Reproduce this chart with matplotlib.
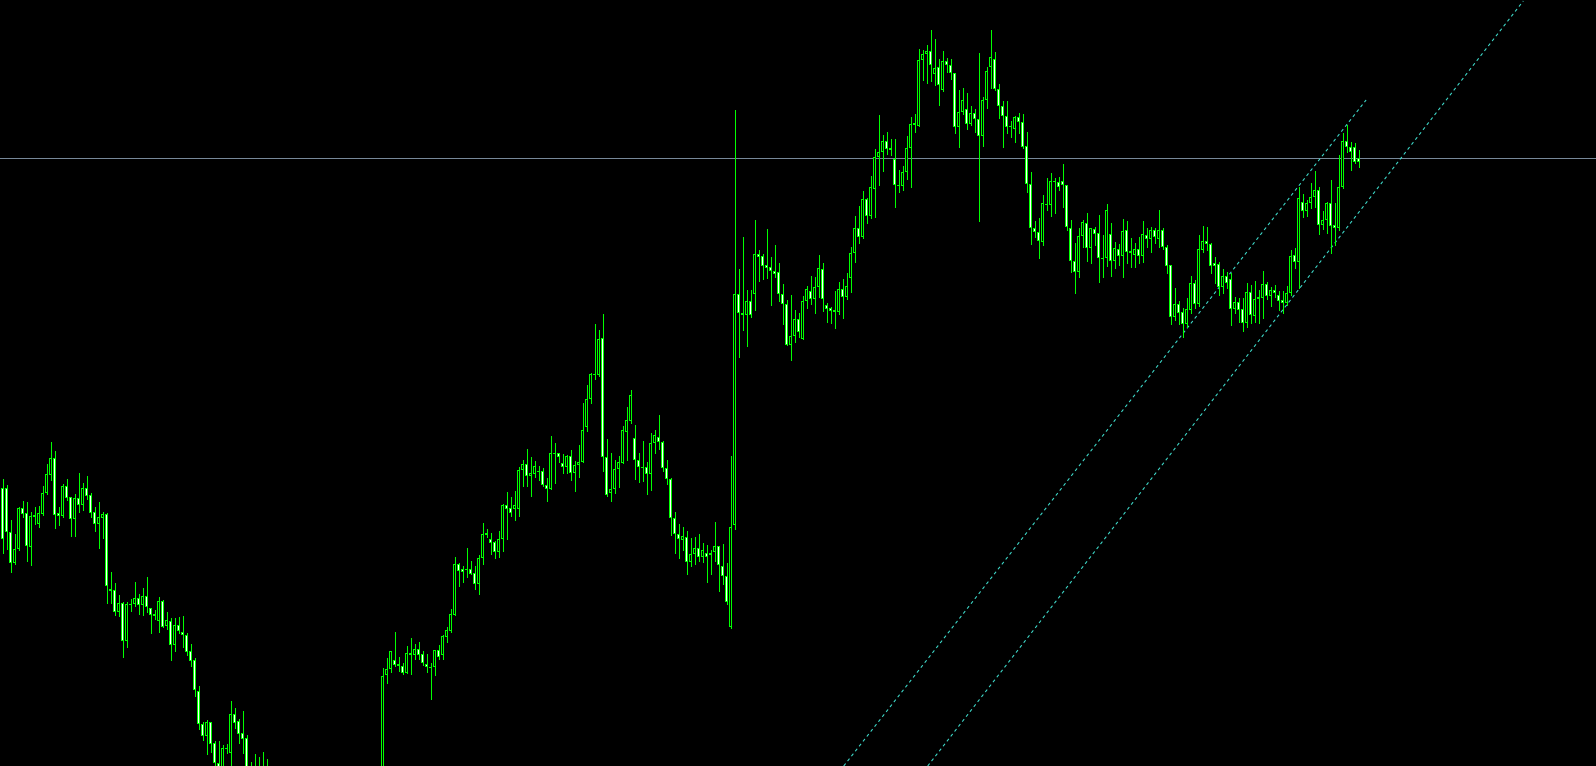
import matplotlib
matplotlib.use('Agg')
import matplotlib.pyplot as plt
import numpy as np

# OHLC (price units = pixels above the bottom edge)
opens = [
    278, 278, 234, 203, 217, 258, 253, 219, 251, 242,
    252, 273, 291, 308, 253, 250, 280, 269, 247, 268,
    261, 278, 271, 254, 242, 248, 252, 177, 176, 154,
    163, 125, 162, 162, 168, 161, 170, 158, 152, 145,
    165, 140, 145, 121, 141, 134, 131, 115, 106, 75,
    42, 30, 44, 23, 3, -10, 18, 13, 52, 45,
    33, 28, -8, -15, -10, -18, -12, -25, -35, -42,
    -40, -50, -58, -55, -62, -70, -66, -74, -80, -78,
    -85, -90, -84, -92, -88, -80, -76, -70, -72, -64,
    -58, -52, -48, -40, -36, -30, 91, 97, 106, 102,
    100, 93, 113, 111, 117, 112, 102, 99, 99, 116,
    111, 129, 135, 151, 202, 197, 197, 197, 193, 182,
    208, 233, 227, 224, 214, 227, 261, 258, 257, 257,
    296, 302, 290, 292, 295, 295, 281, 277, 313, 313,
    303, 299, 310, 293, 301, 304, 339, 367, 392, 391,
    428, 309, 273, 277, 297, 303, 334, 345, 328, 306,
    299, 299, 292, 323, 329, 324, 298, 287, 248, 232,
    226, 229, 204, 212, 218, 209, 213, 213, 214, 220,
    200, 190, 139, 241, 472, 453, 451, 465, 472, 512,
    510, 501, 499, 495, 494, 472, 462, 421, 430, 447,
    427, 465, 475, 467, 479, 497, 461, 458, 456, 454,
    477, 469, 488, 513, 538, 529, 567, 550, 577, 609,
    614, 625, 618, 607, 581, 580, 594, 618, 643, 640,
    706, 712, 715, 692, 699, 676, 705, 701, 693, 639,
    654, 657, 642, 653, 647, 630, 666, 699, 707, 677,
    660, 650, 640, 637, 649, 644, 620, 582, 538, 534,
    524, 561, 561, 584, 584, 585, 581, 538, 505, 494,
    530, 543, 518, 537, 533, 508, 508, 532, 505, 517,
    510, 536, 515, 511, 517, 510, 531, 527, 536, 527,
    536, 519, 501, 449, 462, 454, 442, 456, 483, 462,
    516, 525, 522, 503, 502, 479, 490, 487, 457, 464,
    457, 443, 474, 450, 467, 468, 482, 470, 476, 471,
    466, 463, 473, 511, 504, 564, 555, 563, 569, 576,
    541, 546, 563, 541, 538, 579, 625, 619, 619, 608,
]
highs = [
    287, 281, 246, 232, 259, 265, 264, 254, 259, 260,
    280, 302, 324, 315, 259, 282, 287, 269, 272, 293,
    283, 290, 273, 259, 264, 254, 253, 194, 183, 171,
    164, 164, 167, 184, 172, 178, 189, 158, 156, 169,
    166, 154, 148, 148, 149, 150, 133, 122, 108, 80,
    44, 46, 44, 25, 25, 21, 22, 65, 58, 47,
    55, 31, 4, 12, 9, 14, 7, -18, -28, -33,
    -36, -45, -50, -52, -58, -60, -62, -70, -72, -75,
    -80, -80, -82, -84, -76, -70, -66, -65, -60, -54,
    -47, -44, -36, -32, -28, 98, 108, 115, 134, 109,
    103, 120, 128, 122, 124, 115, 112, 103, 116, 121,
    131, 139, 157, 209, 203, 200, 218, 205, 200, 211,
    243, 237, 233, 225, 235, 262, 274, 269, 275, 299,
    306, 317, 309, 305, 300, 298, 288, 330, 323, 313,
    312, 311, 316, 305, 321, 363, 381, 393, 442, 436,
    452, 327, 313, 306, 310, 340, 359, 376, 341, 313,
    325, 304, 333, 336, 351, 325, 306, 288, 254, 242,
    239, 235, 228, 229, 232, 223, 221, 216, 244, 220,
    222, 203, 310, 656, 497, 529, 476, 476, 546, 516,
    512, 537, 509, 521, 503, 482, 466, 471, 456, 453,
    470, 480, 490, 489, 511, 503, 463, 459, 475, 484,
    487, 493, 519, 550, 560, 575, 568, 590, 617, 651,
    631, 634, 627, 627, 596, 600, 630, 649, 652, 717,
    716, 721, 736, 727, 707, 715, 708, 707, 693, 676,
    678, 673, 660, 657, 713, 669, 699, 736, 714, 682,
    665, 665, 645, 650, 653, 652, 634, 594, 545, 548,
    571, 588, 593, 588, 589, 602, 581, 546, 523, 538,
    546, 553, 538, 539, 551, 531, 562, 543, 524, 522,
    547, 545, 528, 523, 529, 545, 538, 539, 538, 556,
    538, 521, 501, 478, 465, 458, 468, 490, 486, 531,
    540, 539, 523, 509, 504, 497, 494, 493, 469, 468,
    468, 483, 481, 485, 476, 495, 484, 479, 481, 475,
    475, 480, 516, 518, 579, 572, 566, 583, 595, 579,
    555, 564, 586, 563, 611, 633, 641, 624, 623, 616,
]
lows = [
    213, 217, 194, 202, 216, 249, 205, 201, 242, 239,
    251, 272, 286, 238, 241, 249, 266, 230, 230, 254,
    256, 267, 249, 235, 218, 228, 163, 163, 151, 150,
    109, 119, 155, 160, 152, 151, 154, 133, 147, 134,
    139, 137, 106, 115, 133, 119, 111, 100, 70, 37,
    26, 12, 14, -10, -15, -20, 13, -10, 38, 23,
    13, -15, -20, -25, -22, -28, -30, -40, -48, -50,
    -56, -64, -66, -70, -77, -74, -80, -88, -86, -92,
    -97, -95, -99, -96, -92, -85, -80, -80, -76, -70,
    -63, -58, -52, -47, -41, -35, 83, 94, 100, 95,
    92, 93, 92, 107, 107, 101, 94, 67, 91, 107,
    107, 124, 134, 151, 180, 184, 189, 192, 177, 172,
    202, 229, 212, 208, 209, 215, 227, 250, 246, 250,
    280, 280, 270, 289, 286, 280, 265, 277, 283, 304,
    293, 293, 286, 275, 289, 304, 335, 363, 387, 390,
    295, 270, 265, 273, 279, 303, 306, 343, 287, 284,
    285, 272, 276, 313, 317, 295, 282, 231, 213, 208,
    216, 192, 200, 202, 205, 204, 184, 192, 205, 175,
    182, 162, 138, 237, 409, 436, 420, 449, 456, 485,
    487, 488, 461, 489, 465, 442, 421, 406, 424, 429,
    427, 458, 462, 453, 469, 455, 444, 443, 438, 452,
    448, 467, 474, 504, 523, 528, 543, 548, 549, 581,
    595, 612, 611, 559, 574, 576, 587, 579, 634, 640,
    686, 683, 685, 681, 661, 675, 694, 687, 633, 619,
    652, 637, 641, 634, 545, 620, 658, 678, 676, 648,
    619, 633, 629, 624, 633, 618, 574, 522, 529, 508,
    521, 556, 550, 553, 576, 559, 536, 494, 473, 489,
    519, 505, 503, 521, 484, 489, 500, 490, 498, 501,
    489, 503, 499, 499, 503, 504, 519, 514, 523, 519,
    517, 493, 442, 446, 442, 429, 439, 453, 458, 460,
    514, 516, 493, 483, 471, 473, 478, 441, 453, 444,
    435, 439, 443, 444, 443, 448, 467, 460, 469, 456,
    453, 461, 471, 498, 478, 549, 550, 558, 559, 532,
    537, 533, 513, 521, 536, 578, 614, 596, 603, 599,
]
closes = [
    227, 234, 203, 217, 258, 252, 220, 250, 249, 253,
    273, 292, 308, 251, 250, 280, 268, 247, 268, 261,
    278, 270, 253, 242, 249, 252, 180, 175, 154, 163,
    125, 162, 161, 168, 161, 170, 159, 151, 150, 165,
    139, 146, 121, 141, 135, 131, 114, 105, 76, 42,
    30, 44, 22, 3, -8, 18, 17, 52, 43, 32,
    27, -5, -15, -10, -18, -12, -25, -35, -42, -40,
    -50, -58, -55, -62, -70, -66, -74, -80, -78, -85,
    -90, -84, -92, -88, -80, -76, -70, -72, -64, -58,
    -52, -48, -40, -36, -32, 90, 97, 115, 101, 100,
    93, 113, 111, 117, 111, 103, 99, 98, 116, 109,
    130, 136, 152, 202, 195, 194, 196, 192, 182, 208,
    232, 231, 223, 214, 227, 261, 257, 253, 261, 296,
    302, 290, 293, 300, 294, 281, 277, 313, 312, 309,
    299, 310, 293, 301, 304, 336, 367, 392, 391, 427,
    309, 271, 277, 297, 304, 336, 346, 371, 306, 299,
    298, 292, 323, 331, 324, 298, 287, 248, 232, 227,
    230, 204, 212, 218, 209, 216, 209, 211, 220, 201,
    190, 164, 239, 472, 453, 451, 465, 451, 512, 509,
    500, 498, 495, 492, 472, 462, 421, 430, 447, 434,
    465, 477, 467, 479, 498, 467, 457, 455, 454, 477,
    469, 480, 513, 538, 529, 567, 550, 579, 609, 614,
    625, 617, 616, 581, 580, 594, 618, 642, 641, 706,
    712, 715, 701, 698, 681, 705, 701, 693, 639, 654,
    666, 642, 653, 647, 630, 666, 695, 709, 677, 660,
    650, 639, 639, 649, 644, 619, 582, 538, 534, 525,
    563, 562, 585, 585, 579, 581, 539, 505, 494, 530,
    544, 518, 538, 532, 508, 507, 556, 505, 518, 510,
    535, 514, 513, 517, 510, 532, 527, 536, 529, 536,
    519, 500, 449, 462, 453, 442, 457, 483, 462, 517,
    525, 522, 500, 500, 479, 490, 483, 457, 464, 456,
    443, 474, 451, 467, 469, 482, 470, 476, 473, 465,
    463, 473, 510, 504, 568, 555, 563, 569, 576, 541,
    546, 563, 540, 538, 579, 625, 619, 614, 604, 604,
]

# horizontal level and the two channel trend lines (candle index, price)
level_price = 608
upper_idx = [210.3, 340.9]
upper_price = [0, 666]
lower_idx = [231.3, 380.2]
lower_price = [0, 765]

fig = plt.figure(figsize=(15.96, 7.66), dpi=100, facecolor='black')
ax = fig.add_axes([0, 0, 1, 1])
ax.set_facecolor('black')

x = np.arange(len(opens))
o = np.array(opens, dtype=float)
c = np.array(closes, dtype=float)

# wicks (1 px)
ax.vlines(x, lows, highs, color='#00ff00', linewidth=0.72, antialiased=False, zorder=2)

# bodies: green 3px block, then 1px interior in white (bear) or black (bull)
bot = np.minimum(o, c)
top = np.maximum(o, c)
ax.bar(x, np.maximum(top - bot, 1), bottom=bot, width=0.75, color='#00ff00',
       linewidth=0, antialiased=False, zorder=3)
inner_col = np.where(c < o, 'white', 'black')
inner_h = np.where(top - bot > 2, top - bot - 2, 0)
ax.bar(x, inner_h, bottom=bot + 1, width=0.25, color=inner_col,
       linewidth=0, antialiased=False, zorder=4)

ax.axhline(level_price, color='#778899', linewidth=0.72, antialiased=False, zorder=1)
ax.plot(upper_idx, upper_price, color='#40e0d0', linewidth=0.75, linestyle=(0, (3, 3)), zorder=1)
ax.plot(lower_idx, lower_price, color='#40e0d0', linewidth=0.75, linestyle=(0, (3, 3)), zorder=1)

ax.set_xlim(-0.625, 398.375)
ax.set_ylim(0, 766)
ax.axis('off')

fig.savefig('out.png', dpi=100, facecolor='black')
